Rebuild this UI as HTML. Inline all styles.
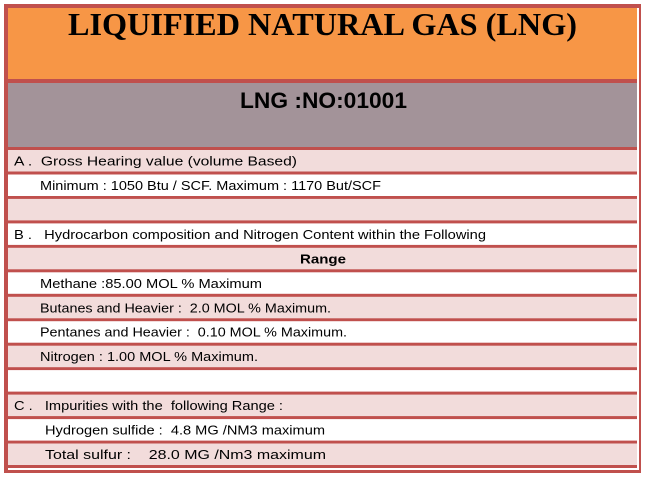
<!DOCTYPE html>
<html><head><meta charset="utf-8"><style>
html,body{margin:0;padding:0;background:#fff;}
svg{display:block;}
text{font-family:"Liberation Sans",sans-serif;fill:#000;}
</style></head><body>
<svg width="649" height="479" viewBox="0 0 649 479">
<rect x="4" y="4" width="637" height="469" fill="#c0504d"/>
<rect x="637" y="8" width="2" height="462" fill="#fff"/>
<rect x="8" y="468" width="631" height="2" fill="#fff"/>
<rect x="8" y="8" width="629" height="71" fill="#f79646"/>
<text x="68" y="35" font-family="Liberation Serif,serif" font-weight="bold" font-size="32" textLength="509" lengthAdjust="spacingAndGlyphs" style="font-family:'Liberation Serif',serif">LIQUIFIED NATURAL  GAS (LNG)</text>
<rect x="8" y="83" width="629" height="64" fill="#a39399"/>
<text x="240" y="108" font-weight="bold" font-size="22" textLength="167" lengthAdjust="spacingAndGlyphs">LNG :NO:01001</text>
<g id="rows"></g>
</svg>
<script>
const rowFills=["#f2dcdb","#fff","#f2dcdb","#fff","#f2dcdb","#fff","#f2dcdb","#fff","#f2dcdb","#fff","#f2dcdb","#fff","#f2dcdb"];
const rowTexts=["A .  Gross Hearing value (volume Based)","Minimum : 1050 Btu / SCF. Maximum : 1170 But/SCF","","B .   Hydrocarbon composition and Nitrogen Content within the Following","Range","Methane :85.00 MOL % Maximum","Butanes and Heavier :  2.0 MOL % Maximum.","Pentanes and Heavier :  0.10 MOL % Maximum.","Nitrogen : 1.00 MOL % Maximum.","","C .   Impurities with the  following Range :","Hydrogen sulfide :  4.8 MG /NM3 maximum","Total sulfur :    28.0 MG /Nm3 maximum"];
const rowX=[14,40,0,14,300,40,40,40,40,0,14,45,45];
const rowW=[283,341,0,472,46,222,291,307,218,0,269,280,281];
const names=["section-a-heading","heating-value-range","blank-row-1","section-b-heading","range-header","methane-limit","butanes-limit","pentanes-limit","nitrogen-limit","blank-row-2","section-c-heading","hydrogen-sulfide-limit","total-sulfur-limit"];
const g=document.getElementById('rows');
const NS="http://www.w3.org/2000/svg";
const top0=150,pitch=24.46;
rowFills.forEach((f,i)=>{
  const y=top0+i*pitch;
  const r=document.createElementNS(NS,'rect');
  r.setAttribute('x',8);r.setAttribute('y',y.toFixed(1));r.setAttribute('width',629);r.setAttribute('height',21.5);r.setAttribute('fill',f);
  
  
  g.appendChild(r);
  if(rowTexts[i]){
    const t=document.createElementNS(NS,'text');
    t.setAttribute('x',rowX[i]);t.setAttribute('y',(y+15.5).toFixed(1));
    t.setAttribute('font-size','13');
    if(i===4) t.setAttribute('font-weight','bold');
    t.setAttribute('textLength',rowW[i]);t.setAttribute('lengthAdjust','spacingAndGlyphs');
    t.setAttribute('xml:space','preserve');t.style.whiteSpace='pre';
    t.textContent=rowTexts[i];
    
    
    g.appendChild(t);
  }
});
</script>
</body></html>
